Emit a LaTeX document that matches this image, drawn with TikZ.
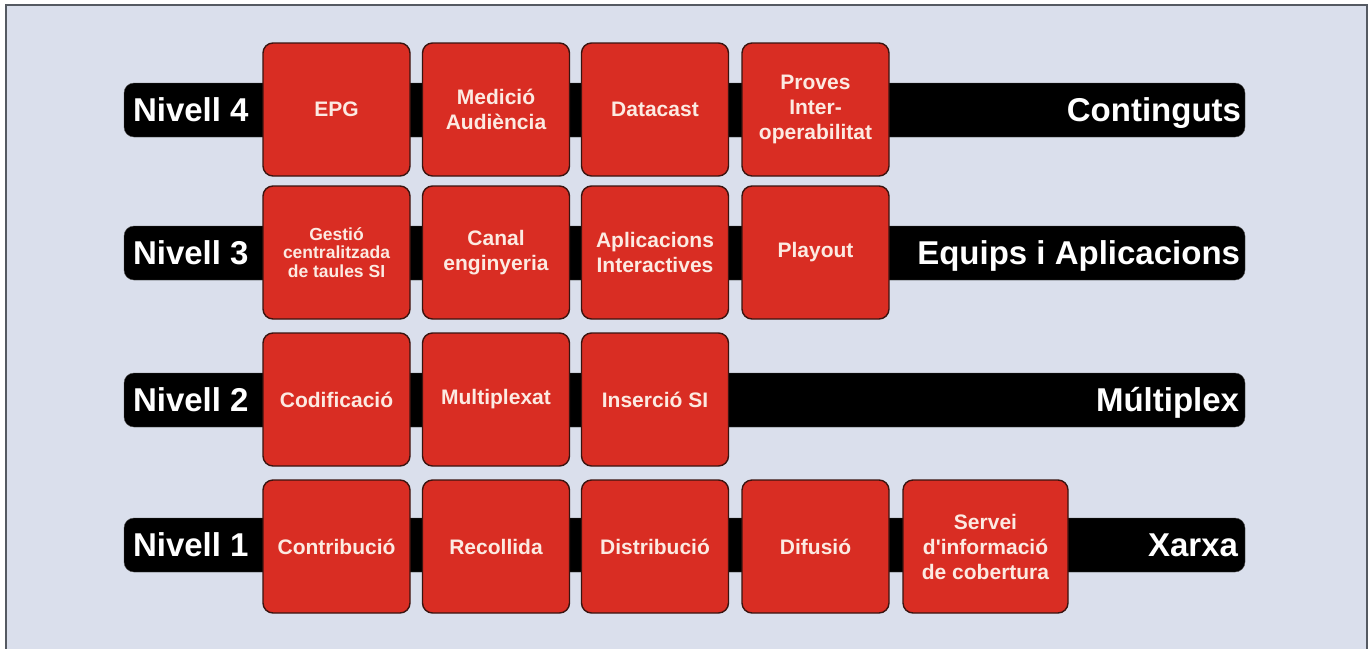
\documentclass[tikz,border=0pt]{standalone}
\usepackage{fontspec}
\setmainfont{Liberation Sans}
\usepackage{tikz}
\usetikzlibrary{positioning}

\begin{document}
\begin{tikzpicture}[x=1pt,y=-1pt,
    lvlbar/.style={rectangle, rounded corners=10pt, fill=black, draw=black!70,
        minimum width=1121pt, minimum height=54pt, inner sep=0pt},
    lvltext/.style={text=white, inner xsep=7pt, inner ysep=0pt,
        font=\fontsize{33}{36}\selectfont\bfseries, text height=23.5pt, text depth=0pt},
    modbox/.style={rectangle, rounded corners=10pt, fill=boxred, draw=boxedge,
        line width=1.4pt, minimum width=147pt, minimum height=133pt, align=center,
        text=boxtext, font=\fontsize{21}{25}\selectfont\bfseries}]
            % colours picked from the original figure
            \definecolor{bgblue}{HTML}{DADFEC}
            \definecolor{framecol}{HTML}{555A62}
            \definecolor{boxred}{HTML}{D92D23}
            \definecolor{boxedge}{HTML}{3A1410}
            \definecolor{boxtext}{HTML}{FCEAE2}
            \useasboundingbox (0,0) rectangle (1372,648);
            \fill[white] (0,0) rectangle (1372,648);
            \draw[framecol, fill=bgblue, line width=1.5pt] (6,5) rectangle (1367,654);
            % the four level bars
            \node[lvlbar] (bar4) at (684.5,110) {};
            \node[lvlbar] (bar3) at (684.5,253) {};
            \node[lvlbar] (bar2) at (684.5,400) {};
            \node[lvlbar] (bar1) at (684.5,545) {};
            \node[lvltext, anchor=west, inner xsep=9pt] (niv4) at (bar4.west) {Nivell 4};
            \node[lvltext, anchor=west, inner xsep=9pt] (niv3) at (bar3.west) {Nivell 3};
            \node[lvltext, anchor=west, inner xsep=9pt] (niv2) at (bar2.west) {Nivell 2};
            \node[lvltext, anchor=west, inner xsep=9pt] (niv1) at (bar1.west) {Nivell 1};
            \node[lvltext, anchor=east, inner xsep=4pt] (continguts) at (bar4.east) {Continguts};
            \node[lvltext, anchor=east, inner xsep=5pt] (equips) at (bar3.east) {Equips i Aplicacions};
            \node[lvltext, anchor=east, inner xsep=6pt] (multi) at (bar2.east) {Múltiplex};
            \node[lvltext, anchor=east, inner xsep=7pt] (xarxa) at (bar1.east) {Xarxa};
            % level 4
            \node[modbox] (epg) at (336.5,109.5) {EPG};
            \node[modbox] (medicio) at (496,109.5) {Medició\\Audiència};
            \node[modbox] (datacast) at (655,109.5) {Datacast};
            \node[modbox] (proves) at (815.5,109.5) {Proves\\Inter-\\operabilitat};
            % level 3
            \node[modbox, font=\fontsize{17.5}{18.5}\selectfont\bfseries] (gestio) at (336.5,252.5) {Gestió\\centralitzada\\de taules SI};
            \node[modbox] (canal) at (496,252.5) {Canal\\enginyeria};
            \node[modbox] (aplic) at (655,252.5) {Aplicacions\\Interactives};
            \node[modbox] (playout) at (815.5,252.5) {Playout};
            % level 2
            \node[modbox] (codif) at (336.5,399.5) {Codificació};
            \node[modbox] (multiplex) at (496,399.5) {Multiplexat};
            \node[modbox] (insercio) at (655,399.5) {Inserció SI};
            % level 1
            \node[modbox] (contrib) at (336.5,546.5) {Contribució};
            \node[modbox] (recollida) at (496,546.5) {Recollida};
            \node[modbox] (distrib) at (655,546.5) {Distribució};
            \node[modbox] (difusio) at (815.5,546.5) {Difusió};
            \node[modbox, minimum width=165pt] (servei) at (985.5,546.5) {Servei\\d\textquotesingle informació\\de cobertura};
        \end{tikzpicture}
\end{document}
